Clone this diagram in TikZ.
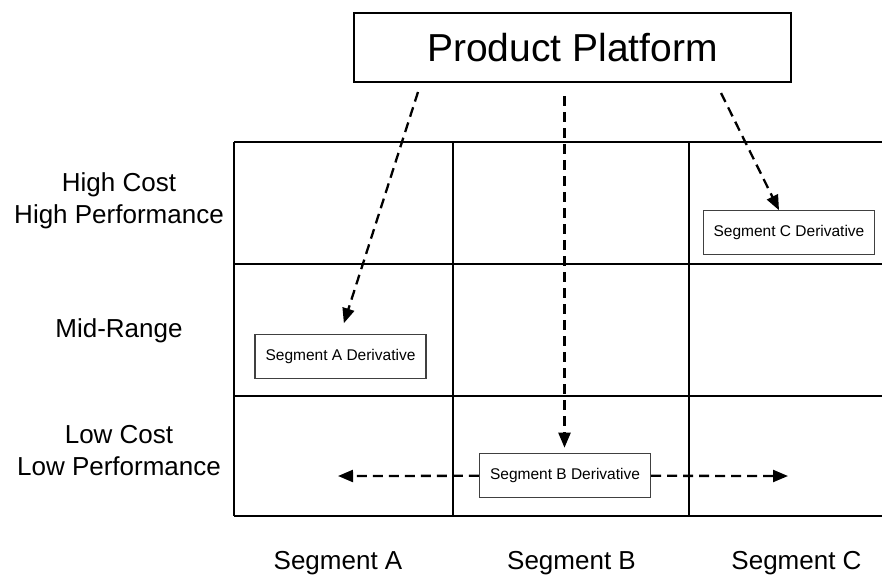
\documentclass[tikz,border=0pt]{standalone}
\usepackage{fontspec}
\setmainfont{Liberation Sans}
\usetikzlibrary{arrows.meta}
\begin{document}
\begin{tikzpicture}[x=1pt,y=-1pt,
  gridline/.style={line width=2.6pt,black},
  derivbox/.style={draw=black!75,line width=1.2pt,fill=white,minimum width=171pt,
    minimum height=44pt,inner sep=0pt,font=\fontsize{15.5}{18}\selectfont},
  platbox/.style={draw=black,line width=2pt,minimum width=437pt,minimum height=69pt,
    inner sep=0pt,font=\fontsize{39}{44}\selectfont},
  rowlabel/.style={align=center,inner sep=0pt,font=\fontsize{26}{31.6}\selectfont},
  collabel/.style={anchor=base,inner sep=0pt,font=\fontsize{26}{31.6}\selectfont},
  flow/.style={line width=2.3pt,dash pattern=on 10pt off 6pt,
    -{Triangle[length=15pt,width=12pt]}}]
\useasboundingbox (0,0) rectangle (882,576);

% grid of market segments and cost levels
\foreach \yy in {142,264,396,516} \draw[gridline] (234,\yy) -- (882,\yy);
\foreach \xx in {234,453,689} \draw[gridline] (\xx,142) -- (\xx,516);

% platform and derivatives
\node[platbox] (pp) at (572.5,47.5) {Product Platform};
\node[derivbox] (segA) at (340.5,356.3) {Segment A Derivative};
\node[derivbox] (segB) at (565,475.8) {Segment B Derivative};
\node[derivbox] (segC) at (789,232.8) {Segment C Derivative};

% row labels
\node[rowlabel] (rhigh) at (119,200.5) {High Cost\\High Performance};
\node[rowlabel,anchor=base] (rmid) at (119,337.3) {Mid-Range};
\node[rowlabel] (rlow) at (119,450.8) {Low Cost\\Low Performance};

% column labels
\node[collabel] (ca) at (338,569.3) {Segment A};
\node[collabel] (cb) at (571.5,569.3) {Segment B};
\node[collabel] (cc) at (796.5,569.3) {Segment C};

% derivation arrows
\coordinate (pa) at (418,92);
\coordinate (pb) at (564.5,96);
\coordinate (pc) at (721,93);
\coordinate (lt) at (338,476);
\coordinate (rt) at (788,476);
\draw[flow,shorten >=11pt] (pa) -- (segA.north);
\draw[flow,shorten >=5.5pt] (pb) -- (segB.north -| pb);
\draw[flow] (pc) -- ([xshift=-10pt]segC.north);
\draw[flow] (segB.west) -- (lt);
\draw[flow] (segB.east) -- (rt);
\end{tikzpicture}
\end{document}
